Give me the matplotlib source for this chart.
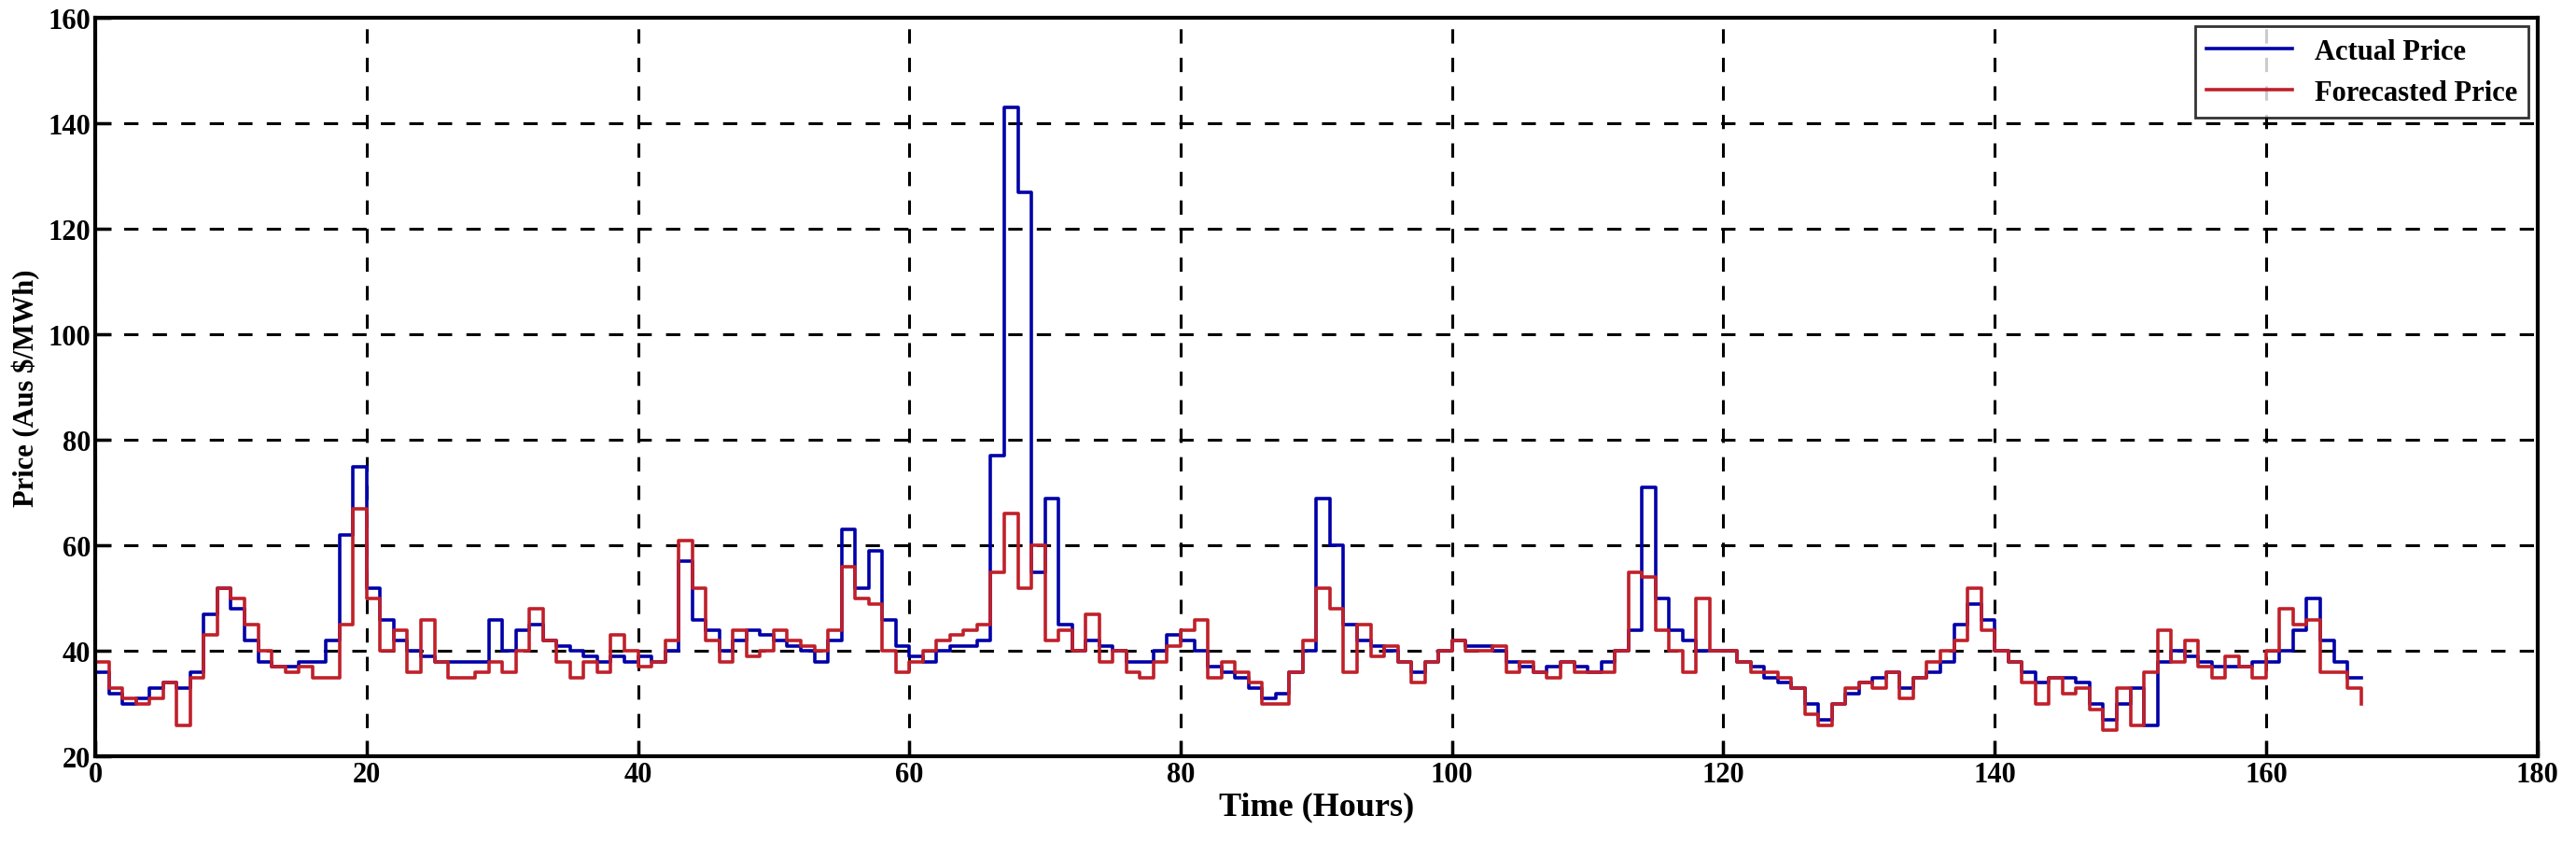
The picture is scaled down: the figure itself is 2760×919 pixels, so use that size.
import matplotlib
matplotlib.use("Agg")
import matplotlib.pyplot as plt
import numpy as np

actual = [36,32,30,31,33,34,33,36,47,52, 48,42,38,37,37,38,38,42,62,75,
          52,46,42,40,39,38,38,38,38,46, 40,44,45,42,41,40,39,38,39,38,
          39,38,40,57,46,44,40,42,44,43, 42,41,40,38,42,63,52,59,46,41,
          39,38,40,41,41,42,77,143,127,55, 69,45,40,42,41,40,38,38,40,43,
          42,40,37,36,35,33,31,32,36,40, 69,60,45,42,41,40,38,36,38,40,
          42,41,41,40,38,37,36,37,38,37, 36,38,40,44,71,50,44,42,40,40,
          40,38,37,35,34,33,30,27,30,32, 34,35,36,33,35,36,38,45,49,46,
          40,38,36,34,35,35,34,30,27,30, 33,26,38,40,39,38,37,37,37,38,
          38,40,44,50,42,38,35,35]
forecast = [38,33,31,30,31,34,26,35,43,52, 50,45,40,37,36,37,35,35,45,67,
            50,40,44,36,46,38,35,35,36,38, 36,40,48,42,38,35,38,36,43,40,
            37,38,42,61,52,42,38,44,39,40, 44,42,41,40,44,56,50,49,40,36,
            38,40,42,43,44,45,55,66,52,60, 42,44,40,47,38,40,36,35,38,41,
            44,46,35,38,36,34,30,30,36,42, 52,48,36,45,39,41,38,34,38,40,
            42,40,40,41,36,38,36,35,38,36, 36,36,40,55,54,44,40,36,50,40,
            40,38,36,36,35,33,28,26,30,33, 34,33,36,31,35,38,40,42,52,44,
            40,38,34,30,35,32,33,29,25,33, 26,36,44,38,42,37,35,39,37,35,
            40,48,45,46,36,36,33,30]
hours = np.arange(len(actual))

xticks = [0,20,40,60,80,100,120,140,160,180]
yticks = [20,40,60,80,100,120,140,160]

fig = plt.figure(figsize=(27.6,9.2), dpi=100)
ax = fig.add_axes([0.037, 0.118, 0.948, 0.86])
ax.plot(hours, actual, color='#0000a8', lw=2.6, drawstyle='steps-post', label='Actual Price')
ax.plot(hours, forecast, color='#c0202a', lw=2.6, drawstyle='steps-post', label='Forecasted Price')
ax.set_xlim(0,180); ax.set_ylim(20,160)
ax.set_xticks(xticks); ax.set_yticks(yticks)
ax.grid(True, color='black', linestyle=(0,(5,5)), lw=2.2)
for s in ax.spines.values():
    s.set_linewidth(3)
ax.tick_params(direction='in', length=12, width=2.5, labelsize=22)
for lab in ax.get_xticklabels()+ax.get_yticklabels():
    lab.set_fontfamily('Liberation Serif'); lab.set_fontweight('bold')
ax.set_xlabel('Time (Hours)', fontsize=26, fontfamily='Liberation Serif', fontweight='bold', labelpad=2)
ax.set_ylabel('Price (Aus $/MWh)', fontsize=22, fontfamily='Liberation Serif', fontweight='bold', labelpad=6)
leg = ax.legend(loc='upper right', fontsize=22, prop={'family':'Liberation Serif','weight':'bold','size':22},
                frameon=True, fancybox=False, edgecolor='black', handlelength=3, borderaxespad=0.3)
leg.get_frame().set_linewidth(2)
fig.savefig('out.png', dpi=100)
